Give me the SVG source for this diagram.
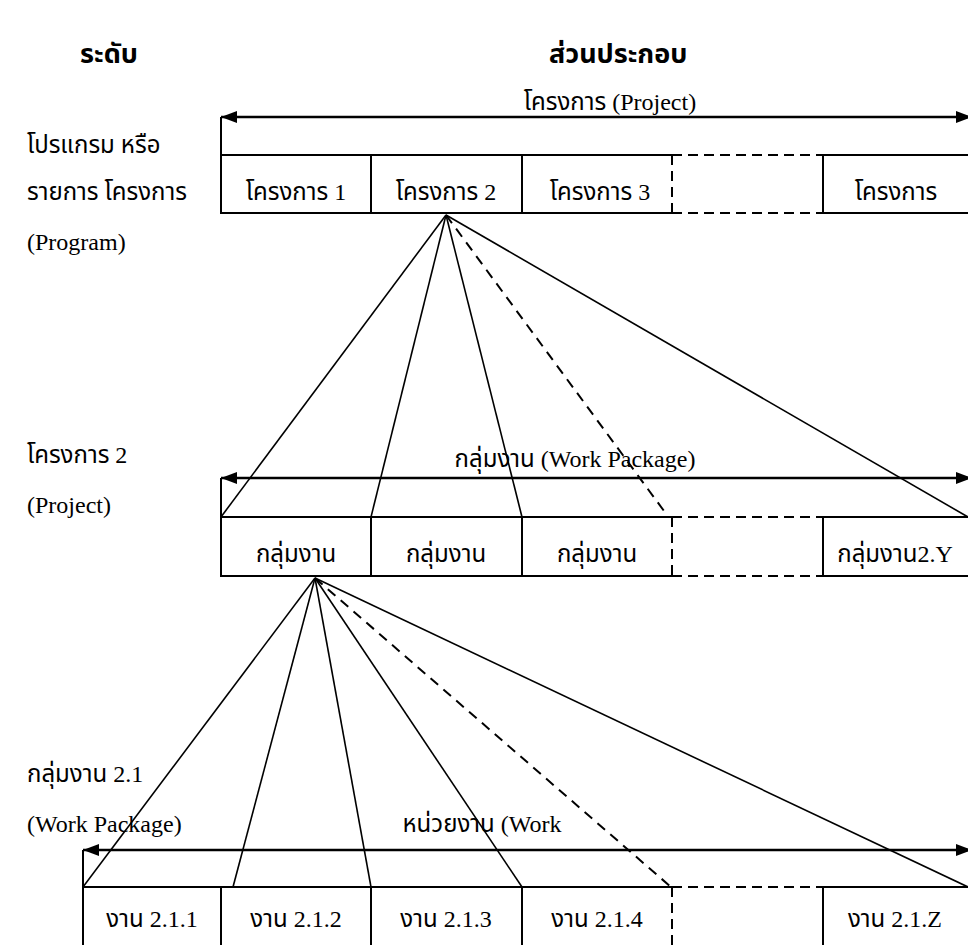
<svg xmlns="http://www.w3.org/2000/svg" width="968" height="945" viewBox="0 0 968 945">
  <style>
    .t { font-family: "Liberation Serif", "Noto Sans Thai", "Noto Serif Thai", "DejaVu Sans", serif; font-size: 24px; fill: #000; }
    .h { font-weight: bold; font-size: 27px; }
    .m { text-anchor: middle; }
    .box { fill: none; stroke: #000; stroke-width: 2; }
    .dash { fill: none; stroke: #000; stroke-width: 2; stroke-dasharray: 10 6; }
    .ln { fill: none; stroke: #000; stroke-width: 1.6; }
    .lnd { fill: none; stroke: #000; stroke-width: 2; stroke-dasharray: 10 7; }
    .arr { fill: none; stroke: #000; stroke-width: 2.5; marker-start: url(#ah); marker-end: url(#ah); }
  </style>
  <defs>
    <marker id="ah" viewBox="0 0 16 12" refX="16" refY="6" markerWidth="16" markerHeight="12" markerUnits="userSpaceOnUse" orient="auto-start-reverse">
      <path d="M0,0 L16,6 L0,12 Z" fill="#000"/>
    </marker>
  </defs>
  <rect width="968" height="945" fill="#fff"/>

  <!-- column headers -->
  <g id="headers">
    <text class="t h" x="80" y="63">ระดับ</text>
    <text class="t h" x="549" y="63">ส่วนประกอบ</text>
  </g>

  <!-- level labels -->
  <g id="level-program">
    <text class="t" x="27" y="153">โปรแกรม หรือ</text>
    <text class="t" x="27" y="200">รายการ โครงการ</text>
    <text class="t" x="27" y="250">(Program)</text>
  </g>
  <g id="level-project">
    <text class="t" x="27" y="463">โครงการ 2</text>
    <text class="t" x="27" y="513">(Project)</text>
  </g>
  <g id="level-package">
    <text class="t" x="27" y="782">กลุ่มงาน 2.1</text>
    <text class="t" x="27" y="832">(Work Package)</text>
  </g>

  <!-- tier 1: projects -->
  <g id="tier-projects">
    <text class="t m" x="610" y="110">โครงการ (Project)</text>
    <line class="arr" x1="221" y1="117" x2="972" y2="117"/>
    <line class="box" x1="221" y1="117" x2="221" y2="213"/>
    <polyline class="box" points="672,155 221,155 221,213 672,213"/>
    <polyline class="box" points="971,155 823,155 823,213 971,213"/>
    <line class="box" x1="371" y1="155" x2="371" y2="213"/>
    <line class="box" x1="522" y1="155" x2="522" y2="213"/>
    <path class="dash" d="M672,155 H823 M672,213 H823 M672,155 V213"/>
    <text class="t m" x="296" y="200">โครงการ 1</text>
    <text class="t m" x="446" y="200">โครงการ 2</text>
    <text class="t m" x="600" y="200">โครงการ 3</text>
    <text class="t m" x="896" y="200">โครงการ</text>
  </g>

  <!-- tier 2: work packages -->
  <g id="tier-packages">
    <text class="t m" x="575" y="467">กลุ่มงาน (Work Package)</text>
    <line class="arr" x1="221" y1="478" x2="972" y2="478"/>
    <line class="box" x1="221" y1="478" x2="221" y2="576"/>
    <polyline class="box" points="672,517 221,517 221,576 672,576"/>
    <polyline class="box" points="971,517 823,517 823,576 971,576"/>
    <line class="box" x1="371" y1="517" x2="371" y2="576"/>
    <line class="box" x1="522" y1="517" x2="522" y2="576"/>
    <path class="dash" d="M672,517 H823 M672,576 H823 M672,517 V576"/>
    <text class="t m" x="296" y="562">กลุ่มงาน</text>
    <text class="t m" x="446" y="562">กลุ่มงาน</text>
    <text class="t m" x="597" y="562">กลุ่มงาน</text>
    <text class="t m" x="895" y="562">กลุ่มงาน2.Y</text>
  </g>

  <!-- tier 3: work units -->
  <g id="tier-units">
    <text class="t m" x="482" y="832">หน่วยงาน (Work</text>
    <line class="arr" x1="83" y1="850" x2="972" y2="850"/>
    <line class="box" x1="83" y1="850" x2="83" y2="946"/>
    <polyline class="box" points="83,946 83,887 672,887"/>
    <line class="box" x1="823" y1="887" x2="971" y2="887"/>
    <line class="box" x1="221" y1="887" x2="221" y2="946"/>
    <line class="box" x1="371" y1="887" x2="371" y2="946"/>
    <line class="box" x1="522" y1="887" x2="522" y2="946"/>
    <line class="box" x1="823" y1="887" x2="823" y2="946"/>
    <path class="dash" d="M672,887 H823 M672,887 V946"/>
    <text class="t m" x="152" y="927">งาน 2.1.1</text>
    <text class="t m" x="296" y="927">งาน 2.1.2</text>
    <text class="t m" x="446" y="927">งาน 2.1.3</text>
    <text class="t m" x="597" y="927">งาน 2.1.4</text>
    <text class="t m" x="895" y="927">งาน 2.1.Z</text>
  </g>

  <!-- breakdown connectors -->
  <g id="connectors">
    <line class="ln" x1="446" y1="215" x2="221" y2="517"/>
    <line class="ln" x1="446" y1="215" x2="371" y2="517"/>
    <line class="ln" x1="446" y1="215" x2="522" y2="517"/>
    <line class="lnd" x1="446" y1="215" x2="667" y2="515"/>
    <line class="ln" x1="446" y1="215" x2="968" y2="517"/>

    <line class="ln" x1="315" y1="578" x2="83" y2="887"/>
    <line class="ln" x1="315" y1="578" x2="233" y2="887"/>
    <line class="ln" x1="315" y1="578" x2="371" y2="887"/>
    <line class="ln" x1="315" y1="578" x2="522" y2="887"/>
    <line class="lnd" x1="315" y1="578" x2="671" y2="887"/>
    <line class="ln" x1="315" y1="578" x2="968" y2="887"/>
  </g>
</svg>
